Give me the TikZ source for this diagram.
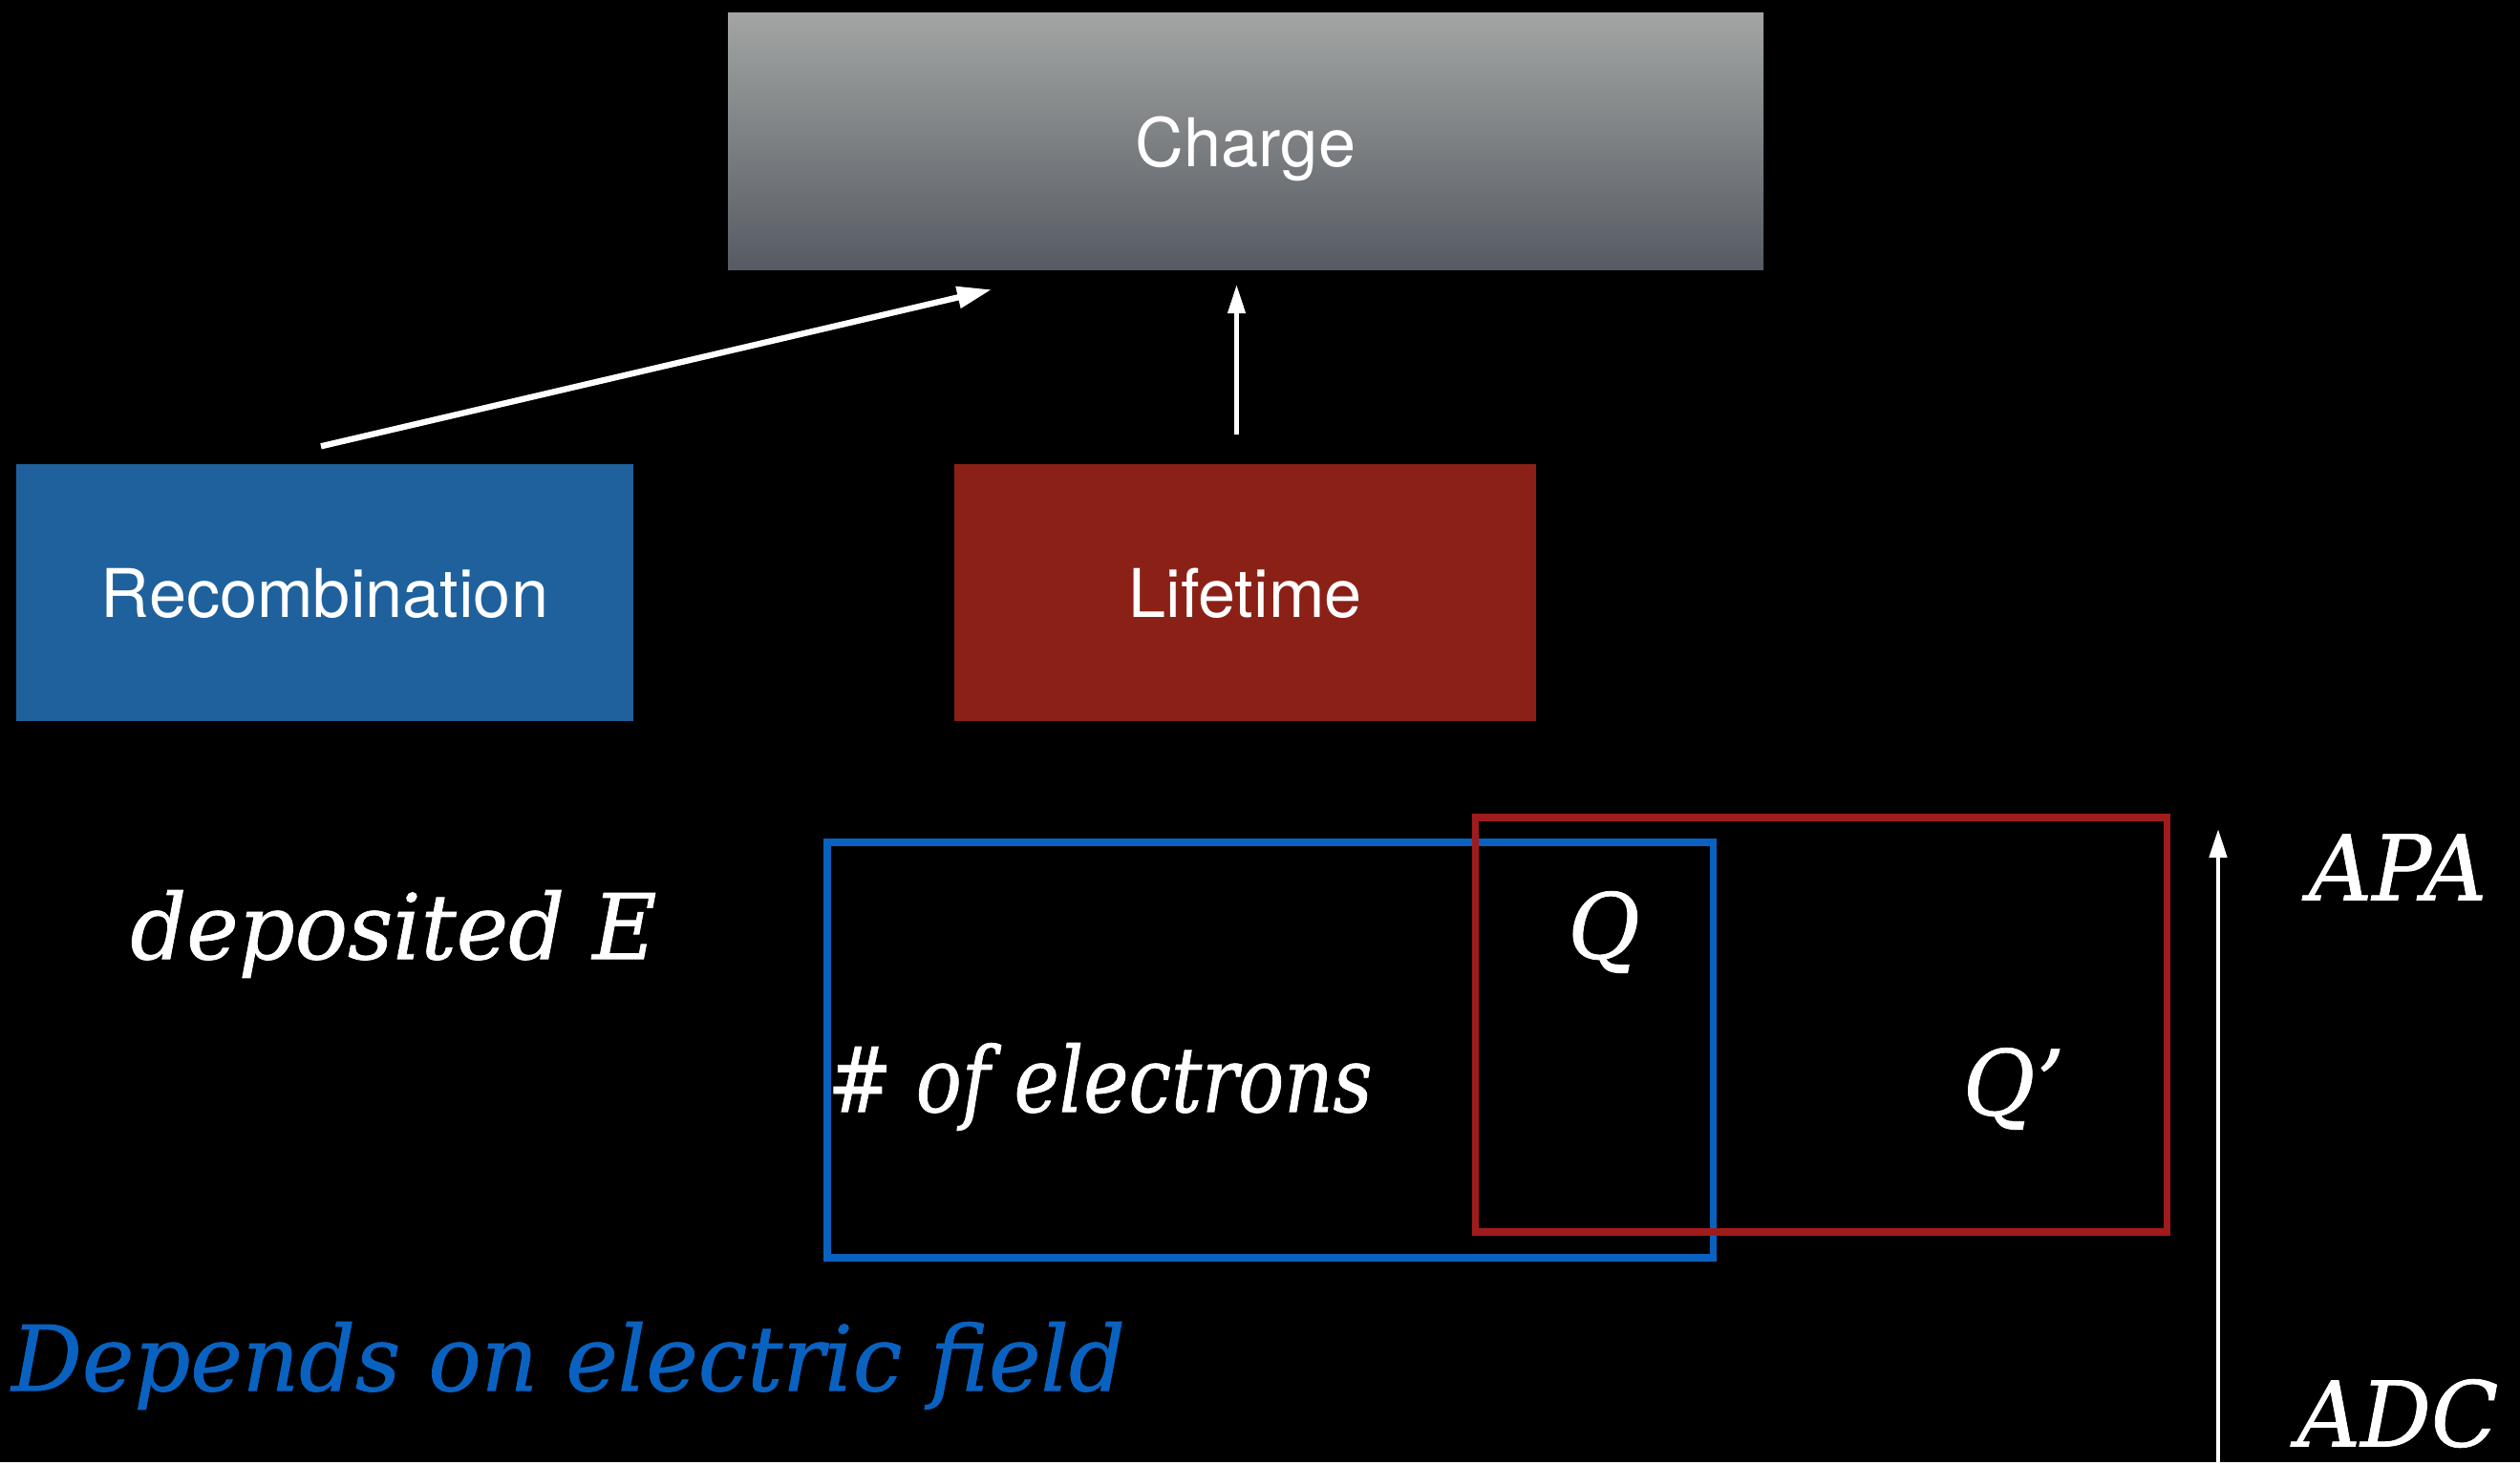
\documentclass[tikz,border=0pt]{standalone}
\usepackage{fontspec}
\usepackage{tikz}
\usetikzlibrary{arrows.meta,positioning,calc}
\newfontfamily\boxfont{TeX Gyre Heros}
\newfontfamily\slabfont[FakeStretch=0.97,FakeBold=0.8]{DejaVu Serif}
\newfontfamily\slabnarrow[FakeStretch=0.84,FakeBold=0.8]{DejaVu Serif}
\definecolor{chargetop}{RGB}{162,165,163}
\definecolor{chargebottom}{RGB}{86,91,99}
\definecolor{recombblue}{RGB}{31,97,156}
\definecolor{lifetimered}{RGB}{139,33,22}
\definecolor{fieldblue}{RGB}{10,98,192}
\definecolor{lifeline}{RGB}{160,28,28}

\begin{document}
\begin{tikzpicture}[>={Triangle[length=0.3cm,width=0.18cm]},
  every node/.style={align=center,inner sep=0pt},
  block/.style={minimum height=2.69cm,text=white,text depth=0pt,font=\boxfont\fontsize{20}{24}\selectfont},
  boxframe/.style={draw,line width=2pt},
  slabtext/.style={text=white,font=\slabfont\itshape\fontsize{27}{32}\selectfont}]
  \fill[black] (0,0) rectangle (26.38,-15.31);
  % top row
  \node[block,minimum width=10.84cm,top color=chargetop,bottom color=chargebottom] (charge) at (13.04,-1.48) {Charge};
  \node[block,minimum width=6.46cm,fill=recombblue] (recomb) at (3.40,-6.205) {Recombination};
  \node[block,minimum width=6.09cm,fill=lifetimered] (life) at (13.035,-6.205) {Lifetime};
  \draw[-{Triangle[length=0.36cm,width=0.22cm]},white,line width=1.8pt] ($(recomb.north)+(-0.04,0.18)$) -- ($(charge.south)+(-2.66,-0.2)$);
  \draw[->,white,line width=1.3pt] ($(life.north)+(-0.09,0.3)$) -- ($(life.north |- charge.south)+(-0.09,-0.15)$);
  % lower part
  \node[boxframe,draw=fieldblue,minimum width=9.27cm,minimum height=4.35cm] (electrons) at (13.295,-10.995) {};
  \node[boxframe,draw=lifeline,minimum width=7.24cm,minimum height=4.34cm] (charges) at (19.06,-10.73) {};
  \node[slabtext] (depE) at (4.12,-9.78) {deposited E};
  \node[slabtext,font=\slabnarrow\itshape\fontsize{27}{32}\selectfont,anchor=west] (nelec) at (8.66,-11.38) {\# of electrons};
  \node[slabtext] (q) at (16.79,-9.76) {Q};
  \node[slabtext] (qprime) at (21.08,-11.40) {Q’};
  \node[slabtext] (apa) at (25.10,-9.08) {APA};
  \node[slabtext] (adc) at (25.10,-14.80) {ADC};
  \node[slabtext,text=fieldblue] (field) at (5.95,-14.30) {Depends on electric field};
  \coordinate (adcbase) at (23.22,-15.31);
  \coordinate (apatip) at (23.22,-8.68);
  \draw[->,white,line width=1.3pt] (adcbase) -- (apatip);
\end{tikzpicture}
\end{document}
